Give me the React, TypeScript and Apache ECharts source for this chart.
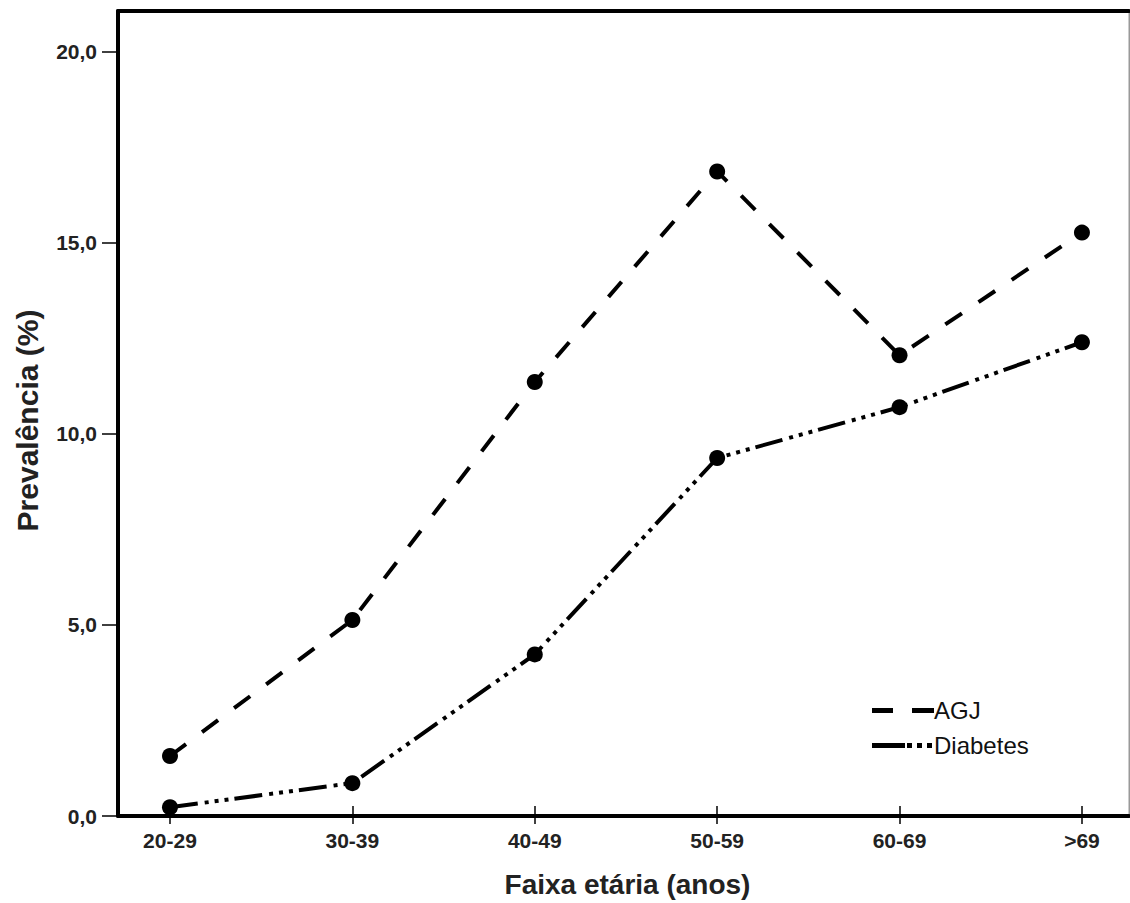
import React, { useEffect, useRef } from "react";
import * as echarts from "echarts";

const categories = ["20-29", "30-39", "40-49", "50-59", "60-69", ">69"];
const agjValues = [1.57, 5.13, 11.36, 16.87, 12.06, 15.27];
const diabetesValues = [0.23, 0.86, 4.23, 9.37, 10.7, 12.4];
const seriesNames = ["AGJ", "Diabetes"];
const yTickValues = [0, 5, 10, 15, 20];
const xTitle = "Faixa etária (anos)";
const yTitle = "Prevalência (%)";

const FONT = "'Liberation Sans', Arial, Helvetica, sans-serif";
const X_MIN = -0.285;
const X_MAX = 5.258;
const Y_MAX = 21.07;
const catIdx = categories.map((_, i) => i);

export default function App() {
  const ref = useRef<HTMLDivElement>(null);
  useEffect(() => {
    if (!ref.current) return;
    const chart = echarts.init(ref.current, null, { renderer: "svg" });
    const fmtY = (v: number) => v.toFixed(1).replace(".", ",");
    const lineBase = { color: "#000", width: 4, cap: "butt" as const };
    chart.setOption({
      animation: false,
      backgroundColor: "#fff",
      grid: {
        left: 118,
        top: 11,
        width: 1011,
        height: 807,
        show: true,
        borderColor: "#999",
        borderWidth: 1,
        containLabel: false,
      },
      xAxis: [
        {
          type: "value",
          position: "bottom",
          min: X_MIN,
          max: X_MAX,
          splitLine: { show: false },
          axisLine: { show: true, onZero: false, lineStyle: { color: "#000", width: 4 } },
          axisTick: {
            show: true,
            customValues: catIdx,
            inside: false,
            length: 8,
            lineStyle: { color: "#000", width: 1.5 },
          },
          axisLabel: {
            customValues: catIdx,
            formatter: (v: number) => categories[Math.round(v)] ?? "",
            fontFamily: FONT,
            fontWeight: "bold",
            fontSize: 21,
            color: "#222",
            margin: 14,
          },
          name: xTitle,
          nameLocation: "middle",
          nameGap: 54,
          nameTextStyle: { fontFamily: FONT, fontWeight: "bold", fontSize: 28, color: "#222", padding: [0, 0, 0, 8] },
        },
        {
          type: "value",
          position: "bottom",
          min: X_MIN,
          max: X_MAX,
          splitLine: { show: false },
          axisLine: { show: false },
          axisTick: {
            show: true,
            customValues: catIdx,
            inside: true,
            length: 10,
            lineStyle: { color: "#000", width: 1.5 },
          },
          axisLabel: { show: false },
        },
        {
          type: "value",
          position: "top",
          min: X_MIN,
          max: X_MAX,
          splitLine: { show: false },
          axisLine: { show: true, onZero: false, lineStyle: { color: "#000", width: 4 } },
          axisTick: { show: false },
          axisLabel: { show: false },
        },
      ],
      yAxis: [
        {
          type: "value",
          position: "left",
          min: 0,
          max: Y_MAX,
          splitLine: { show: false },
          axisLine: { show: true, onZero: false, lineStyle: { color: "#000", width: 4 } },
          axisTick: {
            show: true,
            customValues: yTickValues,
            length: 16,
            lineStyle: { color: "#000", width: 1.5 },
          },
          axisLabel: {
            customValues: yTickValues,
            formatter: fmtY,
            fontFamily: FONT,
            fontWeight: "bold",
            fontSize: 21,
            color: "#222",
            margin: 21,
          },
          name: yTitle,
          nameLocation: "middle",
          nameGap: 76,
          nameTextStyle: { fontFamily: FONT, fontWeight: "bold", fontSize: 30, color: "#222", padding: [0, 14, 0, 0] },
        },
        {
          type: "value",
          position: "right",
          min: 0,
          max: Y_MAX,
          splitLine: { show: false },
          axisLine: { show: true, onZero: false, lineStyle: { color: "#999", width: 1 } },
          axisTick: { show: false },
          axisLabel: { show: false },
        },
      ],
      series: [
        {
          name: seriesNames[0],
          type: "line",
          xAxisIndex: 0,
          yAxisIndex: 0,
          data: agjValues.map((v, i) => [i, v]),
          symbol: "circle",
          symbolSize: 16,
          itemStyle: { color: "#000" },
          lineStyle: { ...lineBase, type: [20, 20] },
          z: 3,
        },
        {
          name: seriesNames[1],
          type: "line",
          xAxisIndex: 0,
          yAxisIndex: 0,
          data: diabetesValues.map((v, i) => [i, v]),
          symbol: "circle",
          symbolSize: 16,
          itemStyle: { color: "#000" },
          lineStyle: { ...lineBase, type: [28, 7, 4, 6, 4, 6, 4, 6] },
          z: 3,
        },
      ],
      graphic: [
        { type: "rect", shape: { x: 872, y: 708, width: 21, height: 5 }, style: { fill: "#000" } },
        { type: "rect", shape: { x: 912, y: 708, width: 22, height: 5 }, style: { fill: "#000" } },
        {
          type: "text",
          x: 934,
          y: 710,
          style: {
            text: seriesNames[0],
            fontFamily: FONT,
            fontSize: 24,
            fill: "#111",
            verticalAlign: "middle",
          },
        },
        { type: "rect", shape: { x: 872, y: 743, width: 33, height: 5 }, style: { fill: "#000" } },
        { type: "rect", shape: { x: 907, y: 743, width: 5, height: 5 }, style: { fill: "#000" } },
        { type: "rect", shape: { x: 917, y: 743, width: 5, height: 5 }, style: { fill: "#000" } },
        { type: "rect", shape: { x: 927, y: 743, width: 5, height: 5 }, style: { fill: "#000" } },
        {
          type: "text",
          x: 934,
          y: 745,
          style: {
            text: seriesNames[1],
            fontFamily: FONT,
            fontSize: 24,
            fill: "#111",
            verticalAlign: "middle",
          },
        },
      ],
    });
    return () => chart.dispose();
  }, []);
  return (
    <div
      ref={ref}
      style={{ position: "absolute", left: 0, top: 0, width: 1130, height: 903, background: "#fff" }}
    />
  );
}
